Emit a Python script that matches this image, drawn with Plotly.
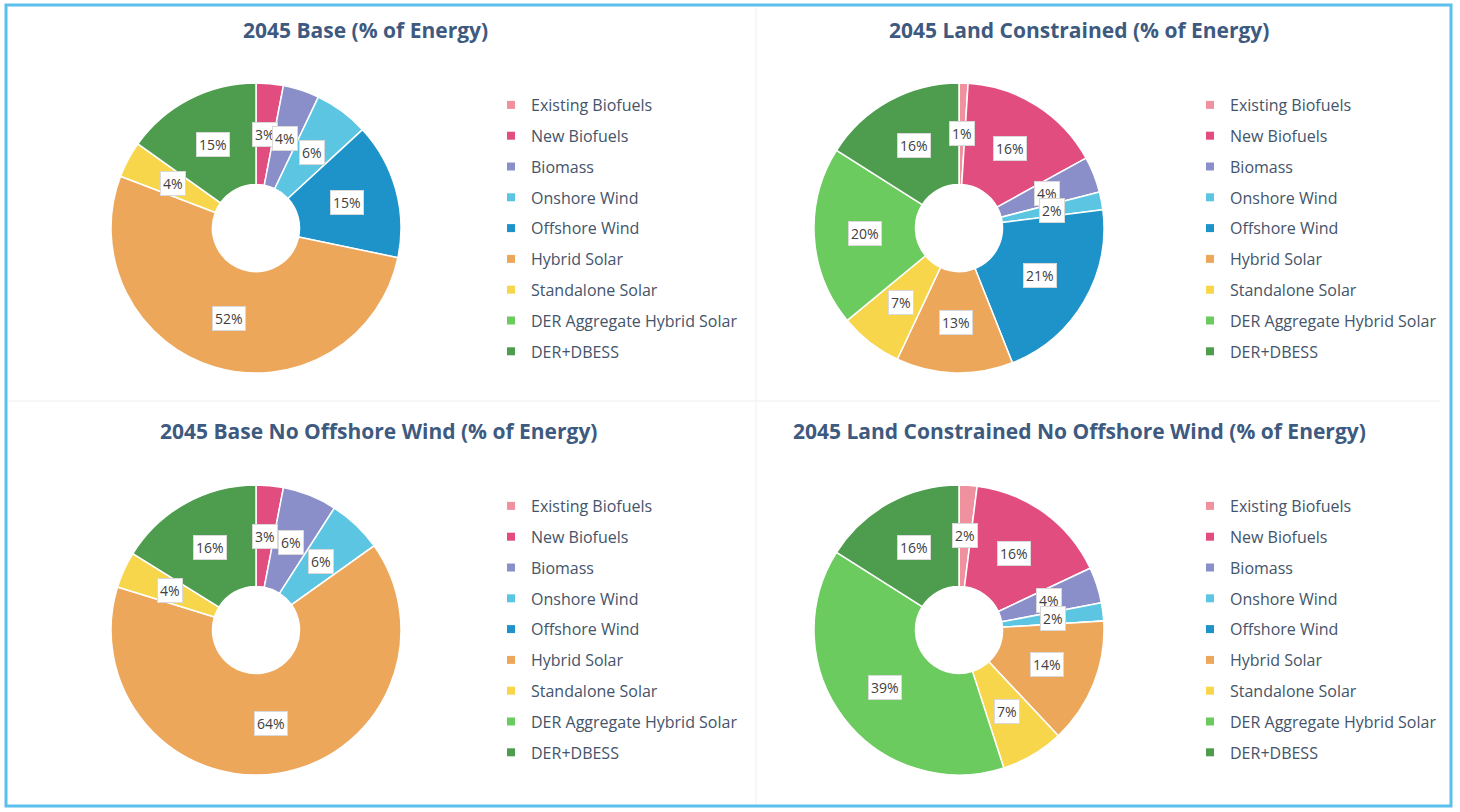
import math
import plotly.graph_objects as go

W, H = 1460, 812

categories = ["Existing Biofuels", "New Biofuels", "Biomass", "Onshore Wind", "Offshore Wind",
              "Hybrid Solar", "Standalone Solar", "DER Aggregate Hybrid Solar", "DER+DBESS"]
colors = ["#F0919F", "#E24D80", "#8A8FCA", "#5CC6E2", "#1E93C9",
          "#EDA75B", "#F8D64B", "#6BCB5E", "#4E9D4E"]

titles = ["2045 Base (% of Energy)", "2045 Land Constrained (% of Energy)",
          "2045 Base No Offshore Wind (% of Energy)", "2045 Land Constrained No Offshore Wind (% of Energy)"]

base_2045 = [0, 3, 4, 6, 15, 52, 4, 0, 15]
land_constrained_2045 = [1, 16, 4, 2, 21, 13, 7, 20, 16]
base_no_osw_2045 = [0, 3, 6, 6, 0, 64, 4, 0, 16]
land_constrained_no_osw_2045 = [2, 16, 4, 2, 0, 14, 7, 39, 16]
series = [base_2045, land_constrained_2045, base_no_osw_2045, land_constrained_no_osw_2045]

# layout (pixel) positions
centers = [(256, 228), (959, 228), (256, 630), (959, 630)]
R = 145
HOLE = 0.30
title_pos = [(365, 30), (1079, 30), (378, 431), (1079, 431)]
legend_pos = [(491, 88), (1190, 88), (491, 489), (1190, 489)]

title_color = "#3E5A7F"
text_color = "#44546A"
FONT = "Open Sans"

fig = go.Figure()
annotations = []
legend_layouts = {}

for i, vals in enumerate(series):
    cx, cy = centers[i]
    fig.add_trace(go.Pie(
        labels=categories, values=vals, sort=False, direction="clockwise", rotation=0,
        hole=HOLE, marker=dict(colors=colors, line=dict(color="white", width=1.5)),
        textinfo="none", hoverinfo="label+value", showlegend=False,
        domain=dict(x=[(cx - R) / W, (cx + R) / W], y=[1 - (cy + R) / H, 1 - (cy - R) / H]),
    ))
    # data labels in boxes
    total = sum(vals)
    cum = 0
    r_lab = R * (1 + HOLE) / 2
    for v in vals:
        if v > 0:
            mid = (cum + v / 2) / total
            ang = 2 * math.pi * mid
            px = cx + r_lab * math.sin(ang)
            py = cy - r_lab * math.cos(ang)
            annotations.append(dict(
                x=px / W, y=1 - py / H, xref="paper", yref="paper", showarrow=False,
                xanchor="center", yanchor="middle",
                text=f"{v}%", font=dict(family=FONT, size=14, color="#404040"),
                bgcolor="white", bordercolor="#D9D9D9", borderwidth=1, borderpad=2,
            ))
        cum += v
    # title
    tx, ty = title_pos[i]
    annotations.append(dict(
        x=tx / W, y=1 - ty / H, xref="paper", yref="paper", showarrow=False,
        text=f"<b>{titles[i]}</b>", font=dict(family=FONT, size=21, color=title_color),
        xanchor="center", yanchor="middle",
    ))
    # legend via marker traces
    lname = "legend" if i == 0 else f"legend{i + 1}"
    for cat, col in zip(categories, colors):
        fig.add_trace(go.Scatter(
            x=[None], y=[None], mode="markers", name=cat,
            marker=dict(symbol="square", size=8, color=col),
            legend=lname, legendgroup=f"p{i}-{cat}", showlegend=True, hoverinfo="skip",
        ))
    lx, ly = legend_pos[i]
    legend_layouts[lname] = dict(
        x=lx / W, y=1 - ly / H, xanchor="left", yanchor="top", bgcolor="rgba(0,0,0,0)",
        font=dict(family=FONT, size=16, color=text_color), tracegroupgap=7,
        itemclick=False, itemdoubleclick=False,
    )

shapes = [
    dict(type="line", xref="paper", yref="paper", x0=8 / W, x1=1440 / W, y0=1 - 401 / H, y1=1 - 401 / H,
         line=dict(color="#EEEEEE", width=1)),
    dict(type="line", xref="paper", yref="paper", x0=756 / W, x1=756 / W, y0=1 - 8 / H, y1=1 - 804 / H,
         line=dict(color="#F0F0F0", width=1)),
    dict(type="rect", xref="paper", yref="paper", x0=6 / W, x1=1451 / W, y0=1 - 806 / H, y1=1 - 5 / H,
         line=dict(color="#5BC0EB", width=3)),
]

fig.update_layout(
    width=W, height=H, margin=dict(l=0, r=0, t=0, b=0),
    paper_bgcolor="white", plot_bgcolor="white",
    xaxis=dict(visible=False), yaxis=dict(visible=False),
    annotations=annotations, shapes=shapes,
    **legend_layouts,
)

fig.write_html("out.html")
